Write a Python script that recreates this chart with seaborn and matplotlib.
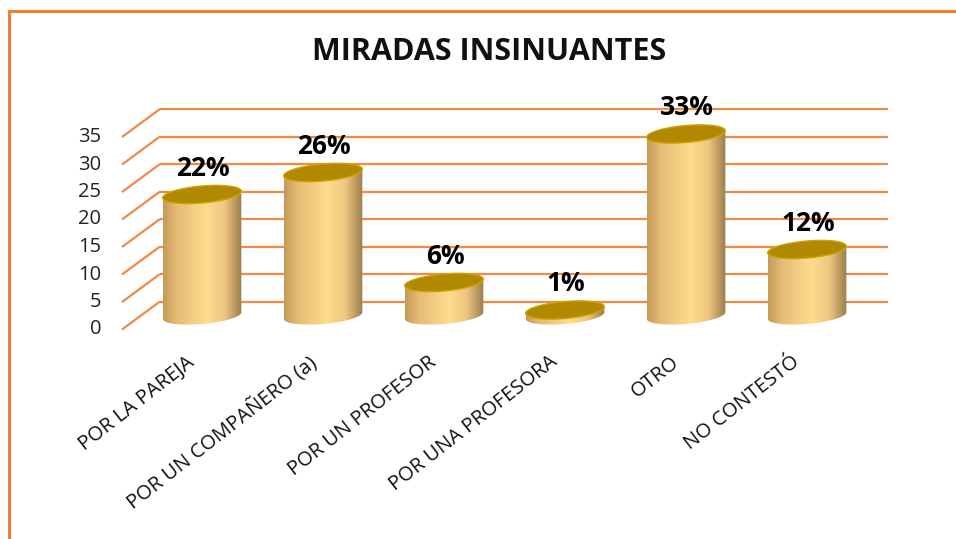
import numpy as np
import pandas as pd
import matplotlib
matplotlib.use("Agg")
import matplotlib.pyplot as plt
import seaborn as sns
from matplotlib.patches import PathPatch, Polygon
from matplotlib.path import Path
from matplotlib.colors import LinearSegmentedColormap
from matplotlib.lines import Line2D

# ---------------- data ----------------
categories = ["POR LA PAREJA", "POR UN COMPAÑERO (a)", "POR UN PROFESOR",
              "POR UNA PROFESORA", "OTRO", "NO CONTESTÓ"]
values = [22, 26, 6, 1, 33, 12]
pct_labels = ["22%", "26%", "6%", "1%", "33%", "12%"]
yticks = [0, 5, 10, 15, 20, 25, 30, 35]
title = "MIRADAS INSINUANTES"

# ---------------- style ----------------
sns.set_theme(style="white")
plt.rcParams['font.family'] = ['Open Sans', 'DejaVu Sans']

W, H = 956, 539
fig = plt.figure(figsize=(W / 100, H / 100), dpi=100)
ax = fig.add_axes([0, 0, 1, 1])

df = pd.DataFrame({"cat": categories, "val": values})
bar_w = 0.65
sns.barplot(data=df, x="cat", y="val", ax=ax, width=bar_w, color="#FFDC8E",
            saturation=1, errorbar=None, zorder=3)

# layout geometry (pixel based)
px0, pxu = 202, 121       # pixel x of first category, pixels per category
py0, pyu = 315.5, 5.5     # pixel y of value 0, pixels per unit
dx = 19 / pxu             # perspective depth offset (x)
dv = 14 / pyu             # perspective depth offset (y)
xb0 = (160 - px0) / pxu   # back wall left
xb1 = (888 - px0) / pxu   # back wall right
eh = 17 / pyu             # ellipse height in data units
shear = 0.6               # ellipse tilt

grid_c = "#F08A45"
for v in yticks:
    ax.plot([xb0, xb1], [v + dv, v + dv], color=grid_c, lw=1.6, zorder=1,
            solid_capstyle="butt")
    ax.plot([xb0 - 2 * dx, xb0], [v - dv, v + dv], color=grid_c, lw=1.6,
            zorder=1, solid_capstyle="butt")
    ax.text(xb0 - 2 * dx - 0.17, v - dv, str(v), ha="right", va="center",
            fontsize=14.5, color="#222222")

cmap = LinearSegmentedColormap.from_list(
    "cyl", [(0.0, "#C49A5A"), (0.18, "#E6BC76"), (0.55, "#FFDC8E"),
            (0.78, "#EDC680"), (1.0, "#9A7C4C")])
grad = np.linspace(0, 1, 256).reshape(1, -1)

t_low = np.linspace(0, -np.pi, 80)
t_all = np.linspace(0, 2 * np.pi, 160)
for patch in ax.patches[:len(values)]:
    x0 = patch.get_x()
    w = patch.get_width()
    h = patch.get_height()
    xc = x0 + w / 2
    a, b = w / 2, eh / 2
    patch.set_alpha(0)
    lx = xc + a * np.cos(t_low)
    ly = b * np.sin(t_low) + shear * np.cos(t_low)
    verts = [(x0, h - shear), (x0 + w, h + shear)] + list(zip(lx, ly)) + [(x0, h - shear)]
    codes = [Path.MOVETO] + [Path.LINETO] * (len(verts) - 2) + [Path.CLOSEPOLY]
    body = PathPatch(Path(verts, codes), transform=ax.transData,
                     facecolor="none", edgecolor="none")
    im = ax.imshow(grad, cmap=cmap, extent=[x0, x0 + w, -b - shear - 0.2, h + shear + 0.2],
                   aspect="auto", zorder=3, interpolation="bilinear")
    im.set_clip_path(body)
    tx = xc + a * np.cos(t_all)
    ty = h + b * np.sin(t_all) + shear * np.cos(t_all)
    ax.add_patch(Polygon(np.column_stack([tx, ty]), closed=True,
                         facecolor="#B08900", edgecolor="#CFA400", lw=1.0, zorder=5))

for i, (v, lab) in enumerate(zip(values, pct_labels)):
    ax.text(i + 0.01, v + 3.4, lab, ha="center", va="baseline", fontsize=19,
            fontweight="bold", color="black", zorder=6)

for i, cat in enumerate(categories):
    ax.text(i - 0.13, (py0 - 352) / pyu, cat, rotation=38, rotation_mode="anchor",
            ha="right", va="top", fontsize=14.5, color="#111111")

ax.set_xlim(-px0 / pxu, (W - px0) / pxu)
ax.set_ylim(-(H - py0) / pyu, py0 / pyu)
ax.set_axis_off()

fig.text(489 / W, 1 - 52 / H, title, ha="center", va="center", fontsize=22,
         fontweight="bold", color="#111111")

border_c = "#ED7D31"
fig.add_artist(Line2D([8.5 / W, 8.5 / W], [0, 1 - 11 / H], transform=fig.transFigure,
                      color=border_c, lw=2.2))
fig.add_artist(Line2D([8.5 / W, 1], [1 - 11 / H, 1 - 11 / H], transform=fig.transFigure,
                      color=border_c, lw=2.2))

fig.savefig("out.png", dpi=100)
